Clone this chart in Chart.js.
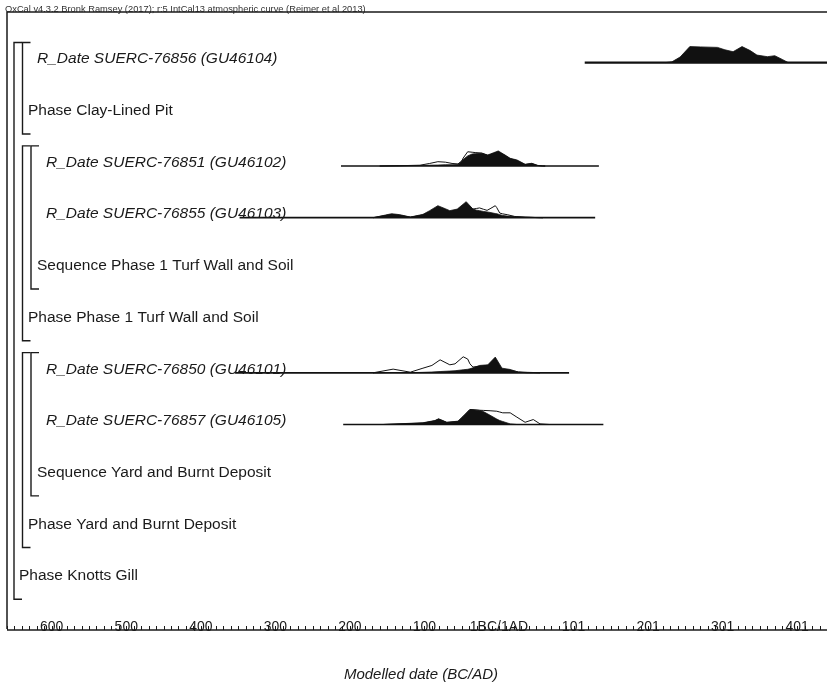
<!DOCTYPE html>
<html>
<head>
<meta charset="utf-8">
<script src="https://cdn.jsdelivr.net/npm/chart.js@4.4.1/dist/chart.umd.min.js"></script>
<style>
  html, body { margin: 0; padding: 0; background: #fff; }
  #wrap { width: 827px; height: 685px; }
</style>
</head>
<body>
<div id="wrap"><canvas id="chart" width="827" height="685"></canvas></div>
<script>
const titleText = "OxCal v4.3.2 Bronk Ramsey (2017); r:5 IntCal13 atmospheric curve (Reimer et al 2013)";
const axisTitle = "Modelled date (BC/AD)";

// one entry per row, top to bottom
const rowLabels = [
  "R_Date SUERC-76856 (GU46104)",
  "Phase Clay-Lined Pit",
  "R_Date SUERC-76851 (GU46102)",
  "R_Date SUERC-76855 (GU46103)",
  "Sequence Phase 1 Turf Wall and Soil",
  "Phase Phase 1 Turf Wall and Soil",
  "R_Date SUERC-76850 (GU46101)",
  "R_Date SUERC-76857 (GU46105)",
  "Sequence Yard and Burnt Deposit",
  "Phase Yard and Burnt Deposit",
  "Phase Knotts Gill"
];
const rowItalic = [true, false, true, true, false, false, true, true, false, false, false];
const rowLevel = [2, 1, 3, 3, 2, 1, 3, 3, 2, 1, 0];

// brackets: nesting level, first row, last row
const bracketLevel = [0, 1, 1, 2, 1, 2];
const bracketFrom = [0, 0, 2, 2, 6, 6];
const bracketTo = [10, 1, 5, 4, 9, 8];

// axis
const tickYears = [-600, -500, -400, -300, -200, -100, 0, 100, 200, 300, 400];
const tickLabels = ["600", "500", "400", "300", "200", "100", "1BC/1AD", "101", "201", "301", "401"];

// calibrated dates (year BC negative / AD positive, relative probability)
const years76856 = [223, 232, 243, 256, 270, 293, 303, 314, 326, 337, 346, 360, 370, 380, 388];
const post76856 = [0, 0.05, 0.35, 1.0, 0.98, 0.95, 0.8, 0.68, 1.0, 0.75, 0.47, 0.37, 0.43, 0.2, 0];

const years76851 = [-160, -133, -106, -93, -82, -72, -63, -55, -50, -48, -42, -36, -32, -23, -15, -1, 8, 15, 24, 35, 44, 52, 58, 62];
const lik76851 = [0, 0.02, 0.05, 0.16, 0.27, 0.24, 0.16, 0.13, 0.31, 0.5, 0.89, 0.86, 0.84, 0.81, 0.66, 0.88, 0.66, 0.45, 0.34, 0.09, 0.15, 0.03, 0.01, 0];
const post76851 = [0, 0.01, 0.03, 0.05, 0.06, 0.08, 0.08, 0.09, 0.31, 0.41, 0.63, 0.75, 0.77, 0.79, 0.69, 0.94, 0.69, 0.48, 0.38, 0.11, 0.17, 0.04, 0, 0];

const years76855 = [-169, -160, -144, -133, -119, -102, -93, -82, -72, -66, -56, -44, -35, -30, -26, -21, -16, -12, -5, -3, 1, 5, 11, 21, 24, 35, 42, 50, 59];
const lik76855 = [0, 0.08, 0.2, 0.15, 0.04, 0.16, 0.34, 0.59, 0.47, 0.38, 0.47, 0.88, 0.54, 0.58, 0.61, 0.53, 0.46, 0.56, 0.75, 0.63, 0.29, 0.24, 0.19, 0.08, 0.07, 0.03, 0.02, 0.01, 0];
const post76855 = [0, 0.09, 0.25, 0.19, 0.04, 0.21, 0.44, 0.75, 0.56, 0.44, 0.54, 1.0, 0.54, 0.47, 0.44, 0.39, 0.36, 0.33, 0.26, 0.25, 0.19, 0.14, 0.1, 0.07, 0.06, 0.04, 0.03, 0.01, 0];

const years76850 = [-169, -142, -119, -102, -90, -79, -66, -59, -48, -42, -39, -35, -26, -15, -5, 4, 15, 26, 38, 46, 55];
const lik76850 = [0, 0.23, 0.04, 0.29, 0.46, 0.81, 0.5, 0.56, 1.0, 0.86, 0.56, 0.36, 0.41, 0.44, 0.38, 0.22, 0.16, 0.06, 0.03, 0.02, 0];
const post76850 = [0, 0.02, 0.01, 0.03, 0.05, 0.08, 0.11, 0.13, 0.19, 0.22, 0.25, 0.31, 0.46, 0.5, 0.98, 0.29, 0.21, 0.04, 0, 0, 0];

const years76857 = [-156, -102, -86, -81, -70, -55, -48, -39, -26, -21, -12, -3, 1, 5, 15, 24, 35, 46, 55, 68];
const lik76857 = [0, 0.09, 0.23, 0.33, 0.13, 0.19, 0.5, 0.94, 0.89, 0.88, 0.86, 0.83, 0.78, 0.73, 0.73, 0.46, 0.14, 0.31, 0.04, 0];
const post76857 = [0, 0.11, 0.25, 0.36, 0.14, 0.21, 0.52, 0.94, 0.88, 0.81, 0.58, 0.34, 0.25, 0.19, 0.04, 0, 0, 0, 0, 0];

const dateRows = [0, 2, 3, 6, 7];
const dateYears = [years76856, years76851, years76855, years76850, years76857];
const dateLik = [null, lik76851, lik76855, lik76850, lik76857];
const datePost = [post76856, post76851, post76855, post76850, post76857];
const rangeFrom = [115, -212, -348, -354, -209];
const rangeTo = [445, 134, 129, 94, 140];

const PEAK = 0.31;        // height of a full-probability peak, in rows
const BASE_SHIFT = 0.07;  // baseline sits a little below the row centre

const datasets = [];
dateRows.forEach((row, k) => {
  const base = row + BASE_SHIFT;
  const yrs = dateYears[k];
  if (dateLik[k]) {
    datasets.push({
      data: yrs.map((x, i) => ({ x: x, y: base - dateLik[k][i] * PEAK })),
      showLine: true, pointRadius: 0, borderColor: "#111", borderWidth: 1,
      backgroundColor: "#ffffff", fill: { value: base }, order: 3
    });
  }
  datasets.push({
    data: yrs.map((x, i) => ({ x: x, y: base - datePost[k][i] * PEAK })),
    showLine: true, pointRadius: 0, borderColor: "#111", borderWidth: 0.8,
    backgroundColor: "#111", fill: { value: base }, order: 2
  });
  datasets.push({
    data: [{ x: rangeFrom[k], y: base }, { x: rangeTo[k], y: base }],
    showLine: true, pointRadius: 0, borderColor: "#111",
    borderWidth: k === 0 ? 2.2 : 1.7, fill: false, order: 1
  });
});

const oxcalLayout = {
  id: "oxcalLayout",
  afterDraw(chart) {
    const ctx = chart.ctx;
    const xs = chart.scales.x;
    const ys = chart.scales.y;
    const a = chart.chartArea;
    ctx.save();
    ctx.strokeStyle = "#1a1a1a";

    // title
    ctx.font = '9.3px "Liberation Sans", Arial, sans-serif';
    ctx.fillStyle = "#333";
    ctx.textAlign = "left";
    ctx.textBaseline = "alphabetic";
    ctx.fillText(titleText, a.left - 2, a.top);

    // frame
    ctx.lineWidth = 1.5;
    ctx.beginPath();
    ctx.moveTo(a.left, a.bottom);
    ctx.lineTo(a.left, a.top);
    ctx.lineTo(a.right, a.top);
    ctx.stroke();

    // brackets
    ctx.lineWidth = 1.4;
    bracketLevel.forEach((lv, i) => {
      const x = a.left + 7 + 8.5 * lv;
      const top = ys.getPixelForValue(bracketFrom[i] - 0.32);
      const bot = ys.getPixelForValue(bracketTo[i] + 0.45);
      ctx.beginPath();
      ctx.moveTo(x + 8, top);
      ctx.lineTo(x, top);
      ctx.lineTo(x, bot);
      ctx.lineTo(x + 8, bot);
      ctx.stroke();
    });

    // row labels
    ctx.fillStyle = "#1a1a1a";
    ctx.textBaseline = "middle";
    rowLabels.forEach((t, i) => {
      ctx.font = (rowItalic[i] ? "italic " : "") + '15.5px "Liberation Sans", Arial, sans-serif';
      ctx.fillText(t, a.left + 12 + 9 * rowLevel[i], ys.getPixelForValue(i));
    });

    // time axis
    const y0 = a.bottom + 1;
    ctx.lineWidth = 1.5;
    ctx.beginPath();
    ctx.moveTo(a.left, y0);
    ctx.lineTo(a.right, y0);
    ctx.stroke();
    ctx.lineWidth = 1;
    ctx.beginPath();
    for (let yr = Math.ceil(xs.min / 10) * 10; yr <= xs.max; yr += 10) {
      const x = Math.round(xs.getPixelForValue(yr)) + 0.5;
      ctx.moveTo(x, y0);
      ctx.lineTo(x, y0 - 4);
    }
    ctx.stroke();
    ctx.font = '14px "Liberation Sans", Arial, sans-serif';
    ctx.textAlign = "center";
    ctx.textBaseline = "alphabetic";
    tickYears.forEach((yr, i) => {
      ctx.fillText(tickLabels[i], xs.getPixelForValue(yr), y0 + 1);
    });

    ctx.font = 'italic 15px "Liberation Sans", Arial, sans-serif';
    ctx.textBaseline = "middle";
    ctx.fillText(axisTitle, (a.left + a.right) / 2 + 4, a.bottom + 46);
    ctx.restore();
  }
};

new Chart(document.getElementById("chart").getContext("2d"), {
  type: "scatter",
  data: { datasets: datasets },
  options: {
    responsive: false,
    animation: false,
    devicePixelRatio: 1,
    layout: { padding: { left: 7, top: 12, right: 0, bottom: 56 } },
    plugins: { legend: { display: false }, tooltip: { enabled: false } },
    elements: { line: { tension: 0 }, point: { radius: 0 } },
    scales: {
      x: { type: "linear", min: -660, max: 440, display: false },
      y: { type: "linear", min: -0.909, max: 11.025, reverse: true, display: false }
    }
  },
  plugins: [oxcalLayout]
});
</script>
</body>
</html>
